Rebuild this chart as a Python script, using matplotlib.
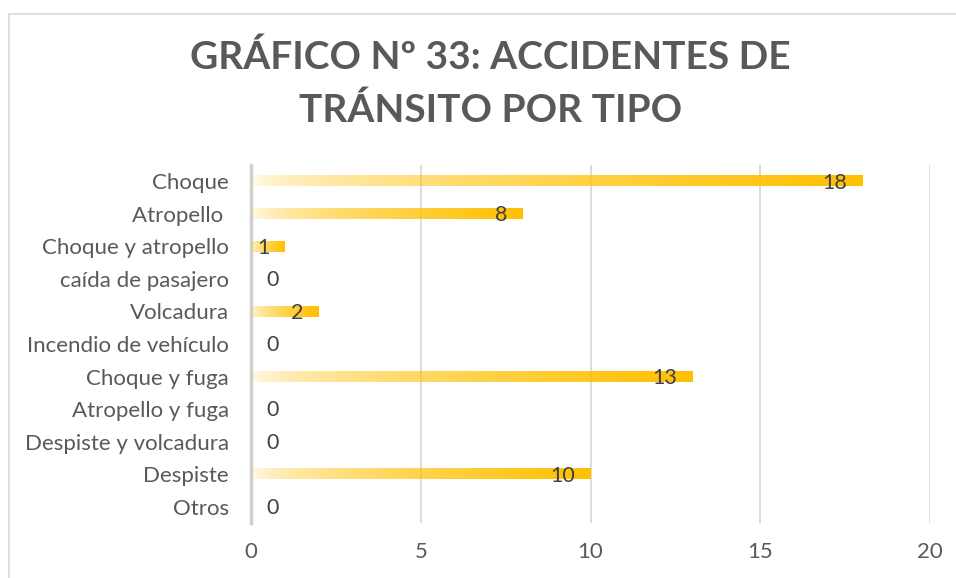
import numpy as np
import matplotlib.pyplot as plt
from matplotlib.colors import to_rgb
from matplotlib.patches import Rectangle

categorias = ['Choque', 'Atropello ', 'Choque y atropello', 'caída de pasajero',
              'Volcadura', 'Incendio de vehículo', 'Choque y fuga',
              'Atropello y fuga', 'Despiste y volcadura', 'Despiste', 'Otros']
valores = [18, 8, 1, 0, 2, 0, 13, 0, 0, 10, 0]

plt.rcParams['font.family'] = ['Lato', 'DejaVu Sans']
gris = '#595959'
oro = to_rgb('#FFC000')

fig = plt.figure(figsize=(9.56, 5.78), dpi=100)
fig.patches.append(Rectangle((9/956, -1), 2, 1 + 1 - 14/578, transform=fig.transFigure,
                             fill=False, edgecolor='#D9D9D9', linewidth=1.2))
ax = fig.add_axes([251/956, 1 - 523/578, 679/956, 358/578])

# gradiente de cada barra
t = np.linspace(0, 1, 256)
grad = np.zeros((1, 256, 4))
grad[0, :, 0] = oro[0]
grad[0, :, 1] = oro[1]
grad[0, :, 2] = oro[2]
grad[0, :, 3] = np.clip(0.05 + 0.95 * t ** 0.55, 0, 1)

alto = 0.32
for i, v in enumerate(valores):
    if v > 0:
        ax.imshow(grad, extent=[0, v, i + alto / 2, i - alto / 2],
                  aspect='auto', interpolation='bilinear', zorder=3)
        ax.annotate(str(v), (v, i), xytext=(-11, -1), textcoords='offset points',
                    ha='right', va='center', fontsize=15.5, color='#404040', zorder=4)
    else:
        ax.annotate(str(v), (0, i), xytext=(11, -1), textcoords='offset points',
                    ha='left', va='center', fontsize=15.5, color='#404040', zorder=4)

ax.set_xlim(0, 20)
ax.set_ylim(len(categorias) - 0.5, -0.5)
ax.set_xticks([0, 5, 10, 15, 20])
ax.set_yticks(range(len(categorias)))
ax.set_yticklabels(categorias)
ax.tick_params(axis='both', length=0, labelsize=16, colors=gris)
ax.tick_params(axis='x', pad=14)
ax.tick_params(axis='y', pad=16)
ax.grid(axis='x', color='#D9D9D9', linewidth=1.3, zorder=0)
ax.set_axisbelow(True)
for s in ['top', 'right', 'bottom']:
    ax.spines[s].set_visible(False)
ax.spines['left'].set_color('#D0D0D0')
ax.spines['left'].set_linewidth(2.5)

fig.text(0.513, 1 - 57/578, 'GRÁFICO Nº 33: ACCIDENTES DE', ha='center', va='center',
         fontsize=28, fontweight='bold', color=gris)
fig.text(0.513, 1 - 110/578, 'TRÁNSITO POR TIPO', ha='center', va='center',
         fontsize=28, fontweight='bold', color=gris)

fig.savefig('out.png', dpi=100)
